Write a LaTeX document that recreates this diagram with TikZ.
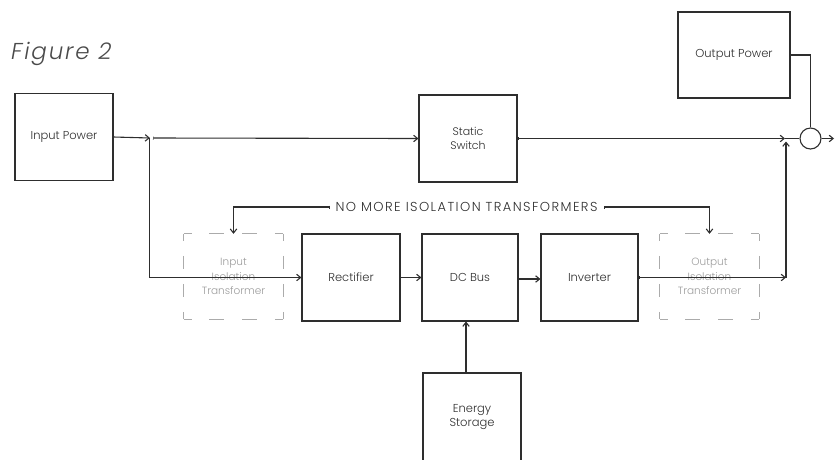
\documentclass[tikz,border=0pt]{standalone}
\usepackage{fontspec}
\setmainfont{Poppins}[UprightFont=* Light, ItalicFont=* Light Italic]
\usetikzlibrary{arrows.meta}
\definecolor{ink}{HTML}{2E2E2E}
\definecolor{ghost}{HTML}{ABABAB}
\definecolor{ghosttext}{HTML}{9C9C9C}
\definecolor{captiongray}{HTML}{4A4A4A}

\begin{document}
\begin{tikzpicture}[x=1pt,y=-1pt,
  labelfont/.style={font=\fontsize{11.5}{14.5}\selectfont},
  block/.style={draw=ink, line width=1.1pt, minimum width=98pt, minimum height=87pt,
    inner sep=0pt, align=center, labelfont, text=ink},
  ghostblock/.style={minimum width=99pt, minimum height=85pt, inner sep=0pt,
    align=center, font=\fontsize{10.5}{14.5}\selectfont, text=ghosttext},
  ghostH/.style={draw=ghost, line width=1.2pt,
    dash pattern=on 8pt off 17.67pt on 15pt off 17.67pt on 15pt off 17.67pt on 8pt off 100pt},
  ghostV/.style={draw=ghost, line width=1.2pt,
    dash pattern=on 7pt off 15pt on 13pt off 15pt on 13pt off 15pt on 7pt off 100pt},
  wire/.style={draw=ink, line width=1.1pt},
  flow/.style={wire, -{Straight Barb[length=4pt,width=6.5pt]}},
  tickflow/.style={wire, {Bar[width=3pt,line width=0.7pt]}-{Straight Barb[length=4pt,width=6.5pt]}},
]
\useasboundingbox (0,0) rectangle (835,459);
\clip (0,0) rectangle (835,459);

% caption
\node[anchor=base west, inner sep=0pt, text=captiongray,
  font=\fontsize{23}{26}\selectfont\itshape\addfontfeatures{LetterSpace=8}] (cap) at (11,59) {Figure 2};

% main blocks
\node[block] (inp) at (64,137) {Input Power};
\node[block, font=\fontsize{11}{14}\selectfont] (ss) at (468,138.5) {Static\\Switch};
\node[block, minimum width=112pt, minimum height=86pt] (out) at (734,55) {Output Power};
\node[block] (rect) at (351,277.5) {Rectifier};
\node[block, minimum width=96pt] (dc) at (470,277.5) {DC Bus};
\node[block, minimum width=97pt] (inv) at (589.5,277.5) {Inverter};
\node[block, minimum height=88pt] (es) at (472,417) {Energy\\Storage};

% ghosted transformer blocks
\node[ghostblock] (iiso) at (233.5,276.5) {Input\\Isolation\\Transformer};
\node[ghostblock] (oiso) at (709.5,276.5) {Output\\Isolation\\Transformer};
\foreach \n in {iiso,oiso}{
  \draw[ghostH] (\n.north west) -- (\n.north east);
  \draw[ghostH] (\n.south west) -- (\n.south east);
  \draw[ghostV] (\n.north west) -- (\n.south west);
  \draw[ghostV] (\n.north east) -- (\n.south east);
}

% summing junction
\node[circle, draw=ink, line width=1.1pt, minimum size=21pt, inner sep=0pt] (sum) at (810.5,138.5) {};

% junction points
\coordinate (j1) at (150,138);
\coordinate (j2) at (785,138.5);
\coordinate (c2) at (786,277.5);
\coordinate (feed) at (834,138.5);

% bypass path
\draw[flow] (inp.east) -- (j1);
\draw[tickflow] ([xshift=3pt]j1) -- (ss.west);
\draw[tickflow] (ss.east) -- (j2);
\draw[wire] (j2) -- (sum.west);
\draw[flow] (sum.east) -- (feed);
\draw[wire] (out.east) -| (sum.north);

% double conversion path
\draw[flow] ([xshift=-0.5pt]j1) |- (rect.west);
\draw[flow] (rect.east) -- (dc.west);
\draw[flow] ([yshift=-1.5pt]dc.east) -- ([yshift=-1.5pt]inv.west);
\draw[tickflow] (inv.east) -- (c2);
\draw[flow] (c2) -- ([xshift=1pt,yshift=-3pt]j2);
\draw[flow] ([xshift=-6pt]es.north) -- ([xshift=-6pt]es.north |- dc.south);

% annotation
\node[text=ink, inner sep=6pt, font=\fontsize{13}{15}\selectfont\addfontfeatures{LetterSpace=11}] (note) at (466.5,207) {NO MORE ISOLATION TRANSFORMERS};
\draw[tickflow] (note.west) -| (iiso.north);
\draw[tickflow] (note.east) -| (oiso.north);
\end{tikzpicture}
\end{document}
